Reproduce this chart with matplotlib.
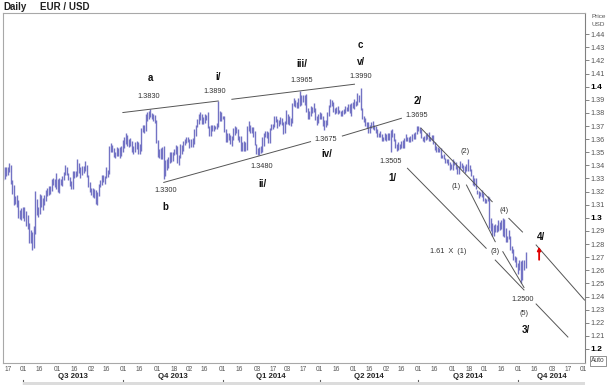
import numpy as np
import pandas as pd
import matplotlib
matplotlib.use("Agg")
import matplotlib.pyplot as plt
from matplotlib.patches import Rectangle

plt.rcParams['font.family'] = ['Liberation Sans', 'DejaVu Sans']

start = '2013-06-12'

# daily (high, low), one row per week
jun13 = [(1.3390, 1.3290), (1.3390, 1.3295), (1.3390, 1.3320),
         (1.3390, 1.3325), (1.3415, 1.3350), (1.3405, 1.3260), (1.3290, 1.3180), (1.3250, 1.3100),
         (1.3170, 1.3105), (1.3175, 1.3085), (1.3135, 1.3000), (1.3060, 1.2990), (1.3075, 1.2985)]
jul13 = [(1.3085, 1.3000), (1.3080, 1.2975), (1.3050, 1.2935), (1.3020, 1.2915), (1.2960, 1.2805),
         (1.2910, 1.2810), (1.2890, 1.2755), (1.2935, 1.2770), (1.3208, 1.2880), (1.3140, 1.3025),
         (1.3085, 1.3010), (1.3180, 1.3030), (1.3175, 1.3085), (1.3150, 1.3060), (1.3175, 1.3100),
         (1.3210, 1.3130), (1.3230, 1.3170), (1.3245, 1.3175), (1.3245, 1.3185), (1.3295, 1.3205),
         (1.3300, 1.3250), (1.3295, 1.3235), (1.3345, 1.3220)]
aug13 = [(1.3295, 1.3195), (1.3300, 1.3190),
         (1.3295, 1.3250), (1.3320, 1.3245), (1.3350, 1.3285), (1.3400, 1.3325), (1.3390, 1.3325),
         (1.3345, 1.3290), (1.3315, 1.3245), (1.3280, 1.3220), (1.3355, 1.3220), (1.3360, 1.3305),
         (1.3360, 1.3310), (1.3450, 1.3320), (1.3420, 1.3340), (1.3385, 1.3300), (1.3395, 1.3330),
         (1.3395, 1.3345), (1.3430, 1.3355), (1.3405, 1.3310), (1.3325, 1.3235), (1.3275, 1.3200)]
sep13 = [(1.3225, 1.3175), (1.3225, 1.3160), (1.3220, 1.3155), (1.3215, 1.3105), (1.3200, 1.3100),
         (1.3260, 1.3165), (1.3290, 1.3235), (1.3325, 1.3250), (1.3325, 1.3270), (1.3320, 1.3255),
         (1.3385, 1.3300), (1.3365, 1.3315), (1.3545, 1.3335), (1.3570, 1.3505), (1.3555, 1.3505),
         (1.3530, 1.3465), (1.3505, 1.3455), (1.3540, 1.3475), (1.3530, 1.3470), (1.3540, 1.3455),
         (1.3545, 1.3475)]
oct13 = [(1.3590, 1.3505), (1.3615, 1.3535), (1.3645, 1.3565), (1.3630, 1.3545),
         (1.3600, 1.3540), (1.3605, 1.3545), (1.3585, 1.3500), (1.3545, 1.3490), (1.3575, 1.3500),
         (1.3585, 1.3525), (1.3575, 1.3490), (1.3560, 1.3485), (1.3685, 1.3510), (1.3705, 1.3655),
         (1.3705, 1.3645), (1.3795, 1.3665), (1.3810, 1.3740), (1.3815, 1.3750), (1.3832, 1.3770),
         (1.3800, 1.3755), (1.3790, 1.3735), (1.3785, 1.3720), (1.3745, 1.3570)]
nov13 = [(1.3590, 1.3465),
         (1.3525, 1.3460), (1.3530, 1.3445), (1.3540, 1.3450), (1.3545, 1.3295), (1.3440, 1.3320),
         (1.3445, 1.3365), (1.3465, 1.3380), (1.3500, 1.3415), (1.3500, 1.3425), (1.3505, 1.3435),
         (1.3525, 1.3480), (1.3555, 1.3490), (1.3550, 1.3420), (1.3480, 1.3400), (1.3565, 1.3460),
         (1.3555, 1.3490), (1.3585, 1.3510), (1.3600, 1.3555), (1.3620, 1.3570), (1.3620, 1.3575)]
dec13 = [(1.3600, 1.3530), (1.3600, 1.3540), (1.3605, 1.3540), (1.3675, 1.3565), (1.3705, 1.3625),
         (1.3750, 1.3690), (1.3790, 1.3715), (1.3810, 1.3745), (1.3790, 1.3715), (1.3770, 1.3715),
         (1.3790, 1.3725), (1.3785, 1.3745), (1.3810, 1.3685), (1.3700, 1.3625), (1.3705, 1.3625),
         (1.3705, 1.3660), (1.3705, 1.3665), (1.3700, 1.3680), (1.3720, 1.3680), (1.3893, 1.3690),
         (1.3815, 1.3740), (1.3810, 1.3740)]
jan14 = [(1.3780, 1.3750), (1.3775, 1.3655), (1.3675, 1.3575),
         (1.3650, 1.3580), (1.3645, 1.3595), (1.3635, 1.3560), (1.3625, 1.3550), (1.3685, 1.3595),
         (1.3700, 1.3630), (1.3690, 1.3645), (1.3680, 1.3590), (1.3625, 1.3580), (1.3625, 1.3510),
         (1.3575, 1.3510), (1.3585, 1.3510), (1.3580, 1.3510), (1.3700, 1.3515), (1.3740, 1.3660),
         (1.3705, 1.3650), (1.3690, 1.3645), (1.3690, 1.3620), (1.3665, 1.3555), (1.3565, 1.3485)]
feb14 = [(1.3535, 1.3477), (1.3540, 1.3480), (1.3545, 1.3495), (1.3620, 1.3505), (1.3645, 1.3545),
         (1.3660, 1.3615), (1.3665, 1.3610), (1.3655, 1.3570), (1.3685, 1.3570), (1.3715, 1.3670),
         (1.3715, 1.3675), (1.3775, 1.3695), (1.3775, 1.3730), (1.3750, 1.3685), (1.3745, 1.3700),
         (1.3770, 1.3715), (1.3765, 1.3705), (1.3730, 1.3640), (1.3735, 1.3645), (1.3825, 1.3715)]
mar14 = [(1.3790, 1.3715), (1.3780, 1.3710), (1.3760, 1.3700), (1.3875, 1.3720), (1.3915, 1.3855),
         (1.3895, 1.3845), (1.3885, 1.3840), (1.3915, 1.3835), (1.3967, 1.3855), (1.3935, 1.3860),
         (1.3935, 1.3880), (1.3940, 1.3860), (1.3945, 1.3810), (1.3835, 1.3750), (1.3815, 1.3755),
         (1.3850, 1.3775), (1.3845, 1.3800), (1.3875, 1.3810), (1.3835, 1.3745), (1.3780, 1.3705),
         (1.3790, 1.3725)]
apr14 = [(1.3810, 1.3750), (1.3800, 1.3750), (1.3775, 1.3700), (1.3745, 1.3673),
         (1.3745, 1.3690), (1.3805, 1.3705), (1.3860, 1.3780), (1.3905, 1.3845), (1.3895, 1.3855),
         (1.3880, 1.3805), (1.3835, 1.3790), (1.3845, 1.3800), (1.3850, 1.3795), (1.3820, 1.3800),
         (1.3815, 1.3780), (1.3825, 1.3775), (1.3830, 1.3790), (1.3850, 1.3800), (1.3845, 1.3815),
         (1.3870, 1.3815), (1.3865, 1.3800), (1.3875, 1.3775)]
may14 = [(1.3885, 1.3835), (1.3905, 1.3830),
         (1.3890, 1.3855), (1.3950, 1.3860), (1.3935, 1.3885), (1.3993, 1.3825), (1.3840, 1.3750),
         (1.3775, 1.3730), (1.3765, 1.3700), (1.3730, 1.3685), (1.3730, 1.3645), (1.3710, 1.3645),
         (1.3730, 1.3685), (1.3735, 1.3680), (1.3710, 1.3670), (1.3700, 1.3650), (1.3675, 1.3615),
         (1.3650, 1.3615), (1.3665, 1.3615), (1.3640, 1.3585), (1.3620, 1.3585), (1.3645, 1.3590)]
jun14 = [(1.3640, 1.3585), (1.3650, 1.3590), (1.3645, 1.3590), (1.3670, 1.3503), (1.3675, 1.3620),
         (1.3650, 1.3585), (1.3600, 1.3535), (1.3560, 1.3510), (1.3575, 1.3520), (1.3565, 1.3525),
         (1.3585, 1.3530), (1.3590, 1.3530), (1.3610, 1.3535), (1.3640, 1.3585), (1.3620, 1.3585),
         (1.3620, 1.3575), (1.3625, 1.3580), (1.3640, 1.3585), (1.3645, 1.3600), (1.3655, 1.3600),
         (1.3700, 1.3640)]
jul14 = [(1.3700, 1.3665), (1.3695, 1.3650), (1.3675, 1.3605), (1.3615, 1.3585),
         (1.3625, 1.3580), (1.3640, 1.3590), (1.3650, 1.3600), (1.3655, 1.3585), (1.3620, 1.3585),
         (1.3630, 1.3590), (1.3630, 1.3560), (1.3575, 1.3515), (1.3545, 1.3505), (1.3540, 1.3500),
         (1.3535, 1.3505), (1.3530, 1.3455), (1.3480, 1.3455), (1.3490, 1.3445), (1.3460, 1.3420),
         (1.3450, 1.3420), (1.3445, 1.3400), (1.3425, 1.3365), (1.3410, 1.3375)]
aug14 = [(1.3445, 1.3365),
         (1.3435, 1.3405), (1.3425, 1.3370), (1.3395, 1.3335), (1.3395, 1.3335), (1.3435, 1.3380),
         (1.3420, 1.3380), (1.3405, 1.3360), (1.3395, 1.3345), (1.3410, 1.3355), (1.3445, 1.3355),
         (1.3405, 1.3360), (1.3375, 1.3320), (1.3330, 1.3250), (1.3300, 1.3245), (1.3300, 1.3220),
         (1.3215, 1.3185), (1.3205, 1.3155), (1.3200, 1.3165), (1.3215, 1.3160), (1.3190, 1.3130)]
sep14 = [(1.3150, 1.3115), (1.3140, 1.3110), (1.3170, 1.3125), (1.3160, 1.2920), (1.2995, 1.2900),
         (1.2960, 1.2860), (1.2945, 1.2860), (1.2955, 1.2890), (1.2945, 1.2895), (1.2985, 1.2900),
         (1.2965, 1.2910), (1.2985, 1.2915), (1.2995, 1.2860), (1.2990, 1.2855), (1.2925, 1.2815),
         (1.2860, 1.2815), (1.2905, 1.2835), (1.2860, 1.2755), (1.2785, 1.2735), (1.2765, 1.2680),
         (1.2710, 1.2665), (1.2700, 1.2625)]
oct14 = [(1.2655, 1.2570), (1.2675, 1.2600), (1.2670, 1.2500),
         (1.2675, 1.2525), (1.2680, 1.2605), (1.2740, 1.2615)]

months = [jun13, jul13, aug13, sep13, oct13, nov13, dec13, jan14, feb14,
          mar14, apr14, may14, jun14, jul14, aug14, sep14, oct14]

# wave counts (bold) and price notes, placed at (date, price)
wave_labels = [('a', '2013-10-25', 1.4067), ('b', '2013-11-08', 1.3079),
               ('i/', '2013-12-27', 1.4074), ('ii/', '2014-02-06', 1.3258),
               ('iii/', '2014-03-14', 1.4171), ('iv/', '2014-04-08', 1.3489),
               ('c', '2014-05-08', 1.4318), ('v/', '2014-05-08', 1.4191),
               ('1/', '2014-06-06', 1.3302), ('2/', '2014-07-01', 1.3891),
               ('3/', '2014-10-08', 1.2144), ('4/', '2014-10-22', 1.2856)]
price_notes = [('1.3830', '2013-10-24', 1.3929), ('1.3300', '2013-11-08', 1.3207),
               ('1.3890', '2013-12-25', 1.3960), ('1.3480', '2014-02-06', 1.3390),
               ('1.3965', '2014-03-14', 1.4051), ('1.3990', '2014-05-08', 1.4080),
               ('1.3675', '2014-04-07', 1.3598), ('1.3505', '2014-06-05', 1.3426),
               ('1.3695', '2014-06-30', 1.3777), ('1.2500', '2014-10-06', 1.2381),
               ('(1)', '2014-08-05', 1.3237), ('(2)', '2014-08-13', 1.3505),
               ('(3)', '2014-09-10', 1.2742), ('(4)', '2014-09-18', 1.3054),
               ('(5)', '2014-10-07', 1.2272), ('1.61  X  (1)', '2014-07-29', 1.2742)]

trend_lines = [
    (('2013-10-01', 1.3803), ('2013-12-27', 1.3891)),
    (('2014-01-09', 1.3904), ('2014-05-02', 1.4019)),
    (('2013-11-07', 1.3270), ('2014-03-24', 1.3581)),
    (('2014-04-22', 1.3624), ('2014-06-16', 1.3759)),
    (('2014-06-20', 1.3378), ('2014-09-02', 1.2768)),
    (('2014-09-10', 1.2678), ('2014-10-07', 1.2450)),
    (('2014-08-14', 1.3250), ('2014-09-10', 1.2818)),
    (('2014-09-17', 1.2742), ('2014-10-07', 1.2469)),
    (('2014-07-03', 1.3683), ('2014-09-08', 1.3123)),
    (('2014-09-23', 1.2996), ('2014-10-06', 1.2892)),
    (('2014-10-17', 1.2793), ('2014-12-02', 1.2373)),
    (('2014-10-17', 1.2343), ('2014-11-17', 1.2091)),
]
arrow_at = ('2014-10-21', 1.2680, 1.2780)

quarter_starts = ['2013-07-01', '2013-10-01', '2014-01-01', '2014-04-01', '2014-07-01', '2014-10-01', '2015-01-01']
quarter_names = ['Q3 2013', 'Q4 2013', 'Q1 2014', 'Q2 2014', 'Q3 2014', 'Q4 2014']


def pos(d):
    return np.busday_count(np.datetime64(start), np.datetime64(pd.Timestamp(d).date()))


bars = [b for m in months for b in m]
highs = np.array([b[0] for b in bars])
lows = np.array([b[1] for b in bars])
xs = np.arange(len(bars))

fig = plt.figure(figsize=(6.08, 3.85), dpi=100)
ax = fig.add_axes([3 / 608, 22 / 385, 582 / 608, 350 / 385])
x_max = 384.3
ax.set_xlim(-0.2, x_max)
ax.set_ylim(1.1893, 1.4562)

ax.vlines(xs, lows, highs, color='#7373c4', lw=1.0)

for (d1, p1), (d2, p2) in trend_lines:
    ax.plot([pos(d1), pos(d2)], [p1, p2], color='#555555', lw=0.7)

for txt, d, p in wave_labels:
    ax.text(pos(d), p, txt, ha='center', va='center', fontsize=7, fontweight='bold', color='#111111')
for txt, d, p in price_notes:
    ax.text(pos(d), p, txt, ha='center', va='center', fontsize=5.3, color='#333333')

ad, a0, a1 = arrow_at
ax.annotate('', xy=(pos(ad), a1), xytext=(pos(ad), a0),
            arrowprops=dict(arrowstyle='-|>', color='#e00000', lw=1.3, mutation_scale=5,
                            shrinkA=0, shrinkB=0))

# spines
for s in ['top', 'left', 'bottom']:
    ax.spines[s].set_color('#a8a8a8')
    ax.spines[s].set_linewidth(0.8)
ax.spines['right'].set_color('#808080')
ax.spines['right'].set_linewidth(0.8)

# y axis on the right
yvals = np.round(np.arange(1.20, 1.4401, 0.01), 2)
ylabels = [f"{v:.1f}" if abs(v * 10 - round(v * 10)) < 1e-6 else f"{v:.2f}" for v in yvals]
ax.yaxis.tick_right()
ax.set_yticks(yvals, labels=ylabels)
ax.tick_params(axis='y', direction='out', length=3, width=0.6, color='#707070',
               labelsize=5.2, labelcolor='#555555', pad=1.2)
for lbl in ax.get_yticklabels():
    if len(lbl.get_text()) == 3:
        lbl.set_fontweight('bold')
        lbl.set_color('black')
        lbl.set_fontsize(6)

# x axis: 1st and 16th of each month
tick_pos, tick_lab = [], []
for m in pd.date_range('2013-06-01', '2014-12-01', freq='MS'):
    for day in (1, 16):
        d = m + pd.Timedelta(days=day - 1)
        while d.weekday() >= 5:
            d += pd.Timedelta(days=1)
        p = pos(d)
        if 0 <= p <= x_max:
            tick_pos.append(p)
            tick_lab.append(f"{d.day:02d}")
ax.set_xticks(tick_pos, labels=tick_lab)
ax.tick_params(axis='x', length=0, labelsize=4.8, labelcolor='#555555', pad=2.2)

trans = ax.get_xaxis_transform()
for i, name in enumerate(quarter_names):
    q0 = pos(quarter_starts[i])
    q1 = min(pos(quarter_starts[i + 1]), x_max)
    ax.text((q0 + q1) / 2, -0.04, name, transform=trans, ha='center', va='center',
            fontsize=5.6, fontweight='bold', color='#222222', clip_on=False)
    ax.plot([q0, q0], [-0.049, -0.063], transform=trans, color='#606060', lw=0.8, clip_on=False)

fig.patches.append(Rectangle((23 / 608, 0), 562 / 608, 3.5 / 385, transform=fig.transFigure,
                             facecolor='#dcdcdc', edgecolor='none'))

fig.text(3 / 608, 1 - 7 / 385, 'Daily', fontsize=7, fontweight='bold', va='center', color='#222222')
fig.text(40 / 608, 1 - 7 / 385, 'EUR / USD', fontsize=7, fontweight='bold', va='center', color='#222222')
fig.text(591 / 608, 1 - 16 / 385, 'Price', fontsize=4.6, va='center', color='#555555')
fig.text(591 / 608, 1 - 24 / 385, 'USD', fontsize=4.6, va='center', color='#555555')
fig.text(598 / 608, 1 - 361 / 385, 'Auto', fontsize=4.8, ha='center', va='center', color='#444444',
         bbox=dict(boxstyle='square,pad=0.2', fc='white', ec='#808080', lw=0.6))

fig.savefig('out.png', dpi=100)
